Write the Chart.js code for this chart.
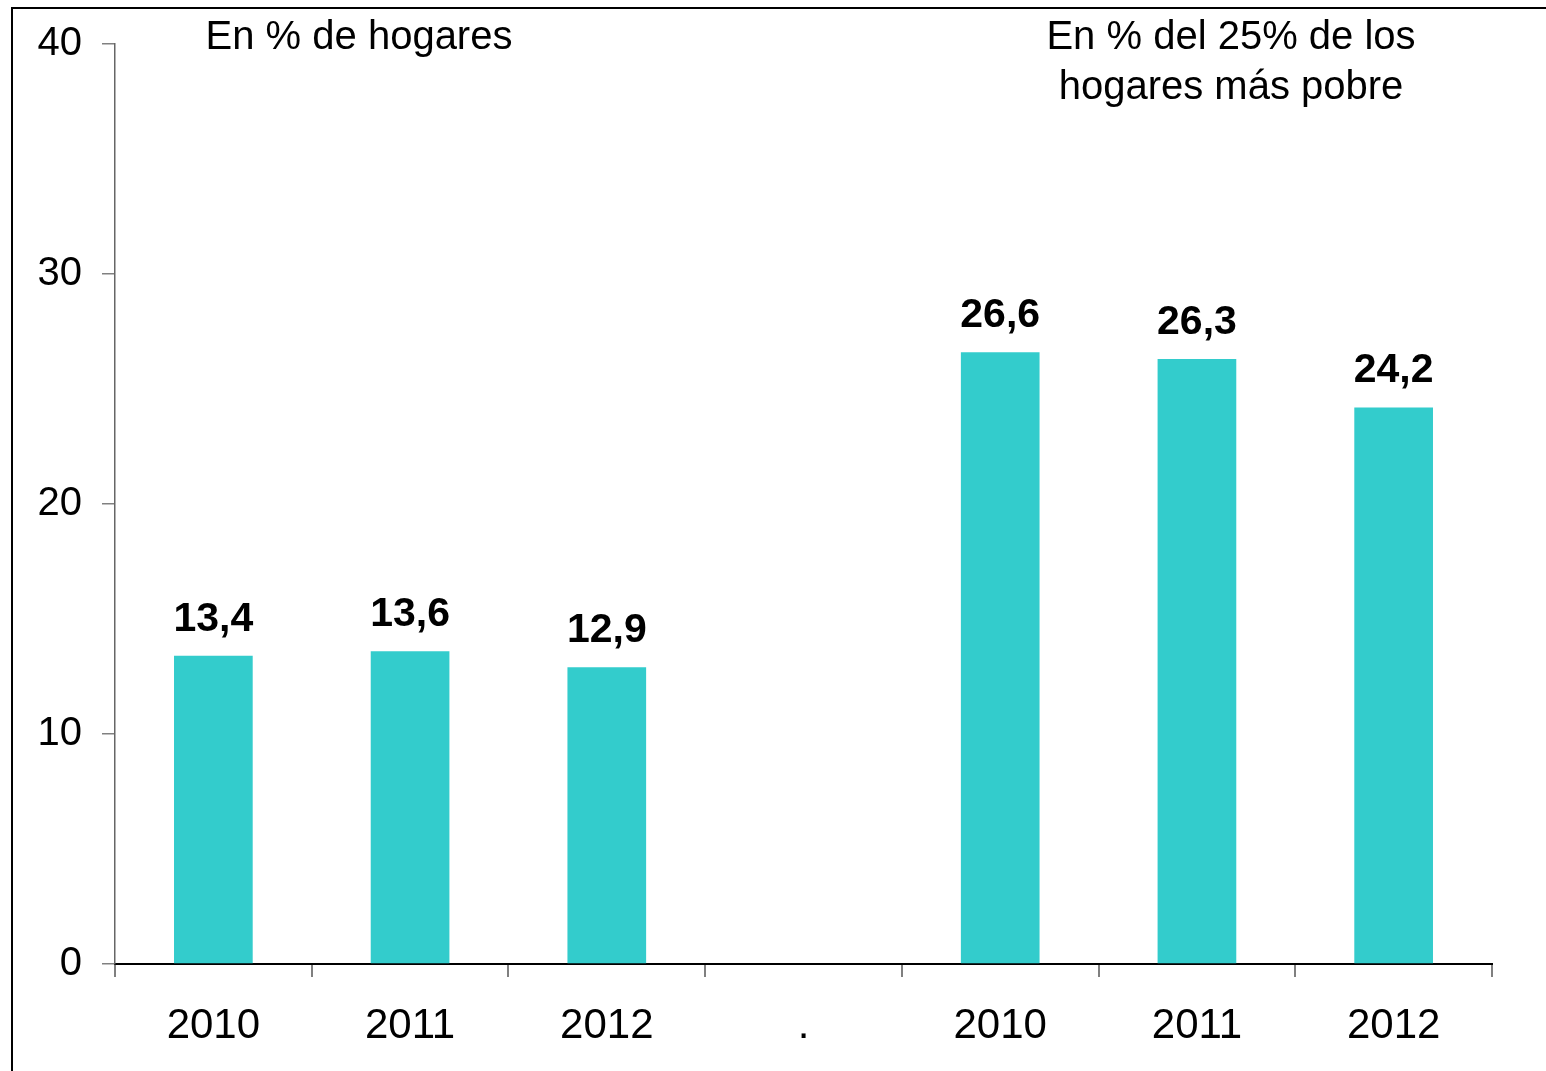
<!DOCTYPE html>
<html>
<head>
<meta charset="utf-8">
<script src="https://cdn.jsdelivr.net/npm/chart.js@4/dist/chart.umd.min.js"></script>
<style>
    html, body { margin: 0; padding: 0; background: #fff; }
    #chart { display: block; }
</style>
</head>
<body>
<canvas id="chart" width="1546" height="1071"></canvas>
<script>
// datos
const categories = ['2010', '2011', '2012', '.', '2010', '2011', '2012'];
const values = [13.4, 13.6, 12.9, null, 26.6, 26.3, 24.2];
const yTicks = [0, 10, 20, 30, 40];
const leftTitle = ['En % de hogares'];
const rightTitle = ['En % del 25% de los', 'hogares más pobre'];

const FONT = '"Liberation Sans", Arial, sans-serif';

// marco exterior
const framePlugin = {
    id: 'frame',
    beforeDraw(chart) {
        const ctx = chart.ctx;
        ctx.save();
        ctx.fillStyle = '#fff';
        ctx.fillRect(0, 0, chart.width, chart.height);
        ctx.strokeStyle = '#000';
        ctx.lineWidth = 2;
        ctx.strokeRect(12, 8, 1700, 1300);
        ctx.restore();
    }
};

// etiquetas de valores y títulos
const labelPlugin = {
    id: 'labels',
    afterDatasetsDraw(chart) {
        const ctx = chart.ctx;
        ctx.save();
        ctx.fillStyle = '#000';
        ctx.textAlign = 'center';
        ctx.textBaseline = 'alphabetic';
        ctx.font = 'bold 41px ' + FONT;
        chart.getDatasetMeta(0).data.forEach((bar, i) => {
            if (values[i] === null) return;
            ctx.fillText(values[i].toFixed(1).replace('.', ','), bar.x, bar.y - 25);
        });
        ctx.font = '40px ' + FONT;
        ctx.textBaseline = 'middle';
        leftTitle.forEach((t, i) => ctx.fillText(t, 359, 38 + i * 50));
        rightTitle.forEach((t, i) => ctx.fillText(t, 1231, 38 + i * 50));
        ctx.restore();
    }
};

const ctx = document.getElementById('chart').getContext('2d');
new Chart(ctx, {
    type: 'bar',
    data: {
        labels: categories,
        datasets: [{
            data: values,
            backgroundColor: '#33CCCC',
            borderWidth: 0,
            barPercentage: 0.8,
            categoryPercentage: 0.5
        }]
    },
    options: {
        responsive: false,
        animation: false,
        layout: { padding: { top: 43, right: 54, left: 0, bottom: 0 } },
        plugins: {
            legend: { display: false },
            tooltip: { enabled: false }
        },
        scales: {
            x: {
                afterFit(scale) { scale.height = 107; },
                grid: {
                    offset: true,
                    drawOnChartArea: false,
                    drawTicks: true,
                    tickLength: 13,
                    color: '#808080',
                    lineWidth: 2
                },
                border: { display: true, color: '#000', width: 2 },
                ticks: {
                    color: '#000',
                    font: { family: FONT, size: 42 },
                    padding: 24,
                    maxRotation: 0
                }
            },
            y: {
                min: 0,
                max: 40,
                afterFit(scale) { scale.width = 115; },
                afterBuildTicks(scale) { scale.ticks = yTicks.map(v => ({ value: v })); },
                grid: {
                    drawOnChartArea: false,
                    drawTicks: true,
                    tickLength: 13,
                    color: '#808080',
                    lineWidth: 1.5
                },
                border: { display: true, color: '#666', width: 1.5 },
                ticks: {
                    color: '#000',
                    font: { family: FONT, size: 40 },
                    padding: 20
                }
            }
        }
    },
    plugins: [framePlugin, labelPlugin]
});
</script>
</body>
</html>
